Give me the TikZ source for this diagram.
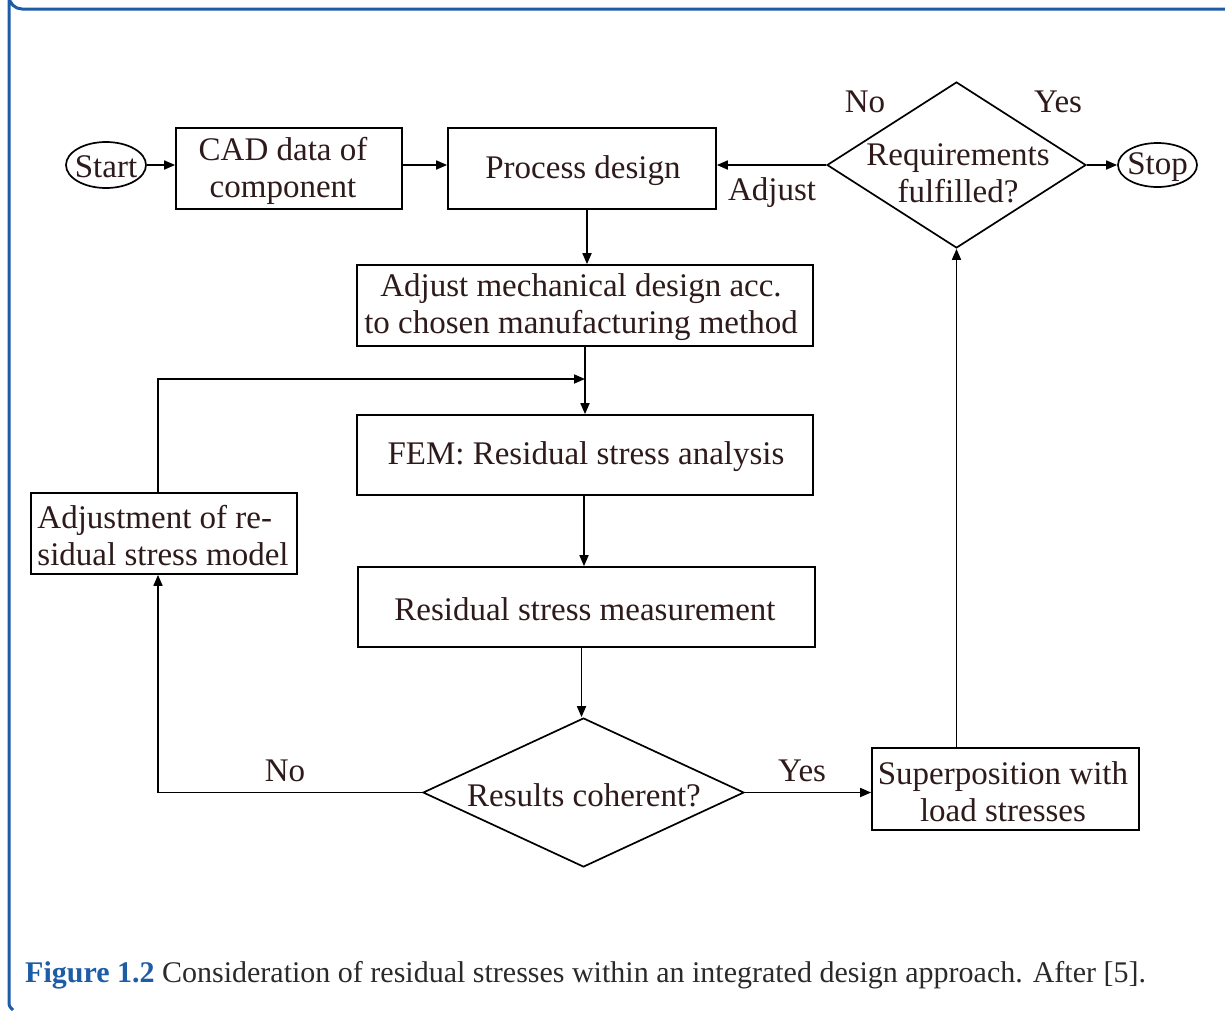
\documentclass[tikz,border=0pt]{standalone}
\usepackage{fontspec}
\setmainfont{Liberation Serif}
\usetikzlibrary{shapes.geometric,arrows.meta}
\definecolor{txt}{HTML}{2E1A1A}
\definecolor{capblue}{HTML}{1D5CA6}
\definecolor{captxt}{HTML}{2A2A2A}
\tikzset{
  box/.style={draw=black, line width=1.7pt, rectangle, inner sep=0pt, text=txt, font=\fontsize{33}{37}\selectfont, align=center},
  term/.style={draw=black, line width=1.7pt, ellipse, inner sep=0pt},
  decision/.style={draw=black, line width=1.7pt, diamond, inner sep=0pt},
  inside/.style={text=txt, font=\fontsize{33}{37}\selectfont, align=center, inner sep=0pt},
  arr/.style={draw=black, line width=1.7pt, -{Triangle[length=11pt,width=9pt]}},
  lbl/.style={text=txt, font=\fontsize{33}{37}\selectfont, inner sep=0pt}
}
\begin{document}
\begin{tikzpicture}[x=1pt,y=-1pt]
\useasboundingbox (0,0) rectangle (1225,1010);
% frame
\draw[capblue, line width=3pt] (1260,9) -- (22,9) arc[start angle=90, end angle=180, radius=13] -- (9,1001) .. controls (9,1006) .. (13,1010);

% nodes
\node[term, minimum width=80pt, minimum height=46pt] (start) at (106,165) {};
\node[inside] (startt) at (106,167) {Start};
\node[box, minimum width=226pt, minimum height=81pt] (cad) at (289,168.5) {};
\node[inside] (cadt) at (283,171) {CAD data of\\component};
\node[box, minimum width=268pt, minimum height=81pt] (proc) at (582,168.5) {};
\node[inside] (proct) at (583,171) {Process design};
\node[box, minimum width=456pt, minimum height=81pt] (adj) at (585,305.5) {};
\node[inside] (adjt) at (581,307) {Adjust mechanical design acc.\\to chosen manufacturing method};
\node[box, minimum width=456pt, minimum height=80pt] (fem) at (585,455) {};
\node[inside] (femt) at (586,457) {FEM: Residual stress analysis};
\node[box, minimum width=457pt, minimum height=80pt] (rsm) at (586.5,607) {};
\node[inside] (rsmt) at (585,609) {Residual stress measurement};
\node[decision, minimum width=321pt, minimum height=149pt] (dec1) at (583.5,792.5) {};
\node[inside] (dec1t) at (584,795) {Results coherent?};
\node[box, minimum width=266pt, minimum height=81pt] (adjm) at (164,533.5) {};
\node[inside, align=left] (adjmt) at (163,536) {Adjustment of re-\\sidual stress model};
\node[box, minimum width=267pt, minimum height=82pt] (sup) at (1005.5,789) {};
\node[inside] (supt) at (1003,792) {Superposition with\\load stresses};
\node[decision, minimum width=259pt, minimum height=166pt] (dec2) at (956.5,165) {};
\node[inside] (dec2t) at (958,173) {Requirements\\fulfilled?};
\node[term, minimum width=79pt, minimum height=44pt] (stop) at (1157.5,165) {};
\node[inside] (stopt) at (1157.5,167) {Stop};

\coordinate (junc) at (585,379);

% connectors
\draw[arr] (start.east) -- (start.east -| cad.west);
\draw[arr] (cad.east |- start.east) -- (proc.west |- start.east);
\draw[arr] ([xshift=5pt]proc.south) -- ([xshift=5pt]proc.south |- adj.north);
\draw[arr] (adj.south) -- (fem.north);
\draw[arr] ([xshift=-6pt]adjm.north) |- (junc);
\draw[arr] ([xshift=-1pt]fem.south) -- ([xshift=-1pt]fem.south |- rsm.north);
\draw[arr] ([xshift=-2pt]rsm.south -| dec1.north) -- ([xshift=-2pt]dec1.north);
\draw[arr] (dec1.west) -| ([xshift=-6pt]adjm.south);
\draw[arr] (dec1.east) -- (dec1.east -| sup.west);
\draw[arr] (dec2.south |- sup.north) -- (dec2.south);
\draw[arr] (dec2.west) -- (dec2.west -| proc.east);
\draw[arr] (dec2.east) -- (stop.west);

% labels
\node[lbl] (lno1) at (285,771) {No};
\node[lbl] (lyes1) at (802,771) {Yes};
\node[lbl] (ladj) at (772,193) {Adjust};
\node[lbl] (lno2) at (865,102) {No};
\node[lbl] (lyes2) at (1058,102) {Yes};

% caption
\node[anchor=west, inner sep=0pt, font=\fontsize{30}{34}\selectfont, text=captxt] (cap) at (25,975) {\textcolor{capblue}{\textbf{Figure 1.2}} Consideration of residual stresses within an integrated design approach. After [5].};
\end{tikzpicture}
\end{document}
